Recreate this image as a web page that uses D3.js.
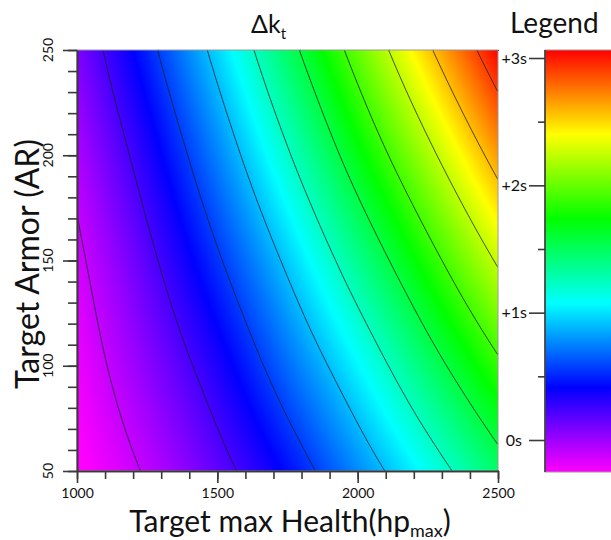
<!DOCTYPE html>
<html>
<head>
<meta charset="utf-8">
<script src="https://cdn.jsdelivr.net/npm/d3@7"></script>
<style>
  body { margin: 0; background: #fff; }
  svg { display: block; }
</style>
</head>
<body>
<div id="chart"></div>
<script>
// grid nodes
const hpNodes = [1000, 1250, 1500, 1750, 2000, 2250, 2500]
const arNodes = [50, 100, 150, 200, 250]

// Δk_t (in s) at each node, one array per armor row, bottom to top
const dkAr50  = [-0.27, -0.08, 0.16, 0.44, 0.77, 1.11, 1.47]
const dkAr100 = [-0.21, 0.05, 0.34, 0.69, 1.06, 1.46, 1.86]
const dkAr150 = [-0.14, 0.18, 0.54, 0.94, 1.37, 1.81, 2.26]
const dkAr200 = [-0.04, 0.33, 0.75, 1.21, 1.69, 2.17, 2.66]
const dkAr250 = [0.08, 0.50, 0.97, 1.48, 2.00, 2.53, 3.06]

// iso lines drawn on top of the colour field
const contourLevels = [-0.1, 0.233, 0.567, 0.9, 1.233, 1.567, 1.9, 2.233, 2.567, 2.9]

// legend bar
const legendTicks = [0, 1, 2, 3]
const legendLabels = ['0s', '+1s', '+2s', '+3s']
const legendMinor = [0.5, 1.5, 2.5]

const xMajor = [1000, 1500, 2000, 2500]
const yMajor = [50, 100, 150, 200, 250]

let chart = {
  'config': {
    'width': 611,
    'height': 540,
    'plot': { 'left': 77, 'right': 498, 'top': 50, 'bottom': 471 },
    'bar': { 'left': 545, 'width': 70, 'top': 50, 'bottom': 472 },
    'font': 'Lato, "Open Sans", "DejaVu Sans", sans-serif',
    'axisColor': '#3a3a3a'
  }
}

const grid = [dkAr50, dkAr100, dkAr150, dkAr200, dkAr250]

// node value, extended linearly past the outer nodes
function node(r, c) {
  let nr = grid.length, nc = grid[0].length
  if (c < 0) return 2 * node(r, 0) - node(r, 1)
  if (c >= nc) return 2 * node(r, nc - 1) - node(r, nc - 2)
  if (r < 0) return 2 * node(0, c) - node(1, c)
  if (r >= nr) return 2 * node(nr - 1, c) - node(nr - 2, c)
  return grid[r][c]
}

function cubic(p0, p1, p2, p3, t) {
  return p1 + 0.5 * t * (p2 - p0 + t * (2 * p0 - 5 * p1 + 4 * p2 - p3 + t * (3 * (p1 - p2) + p3 - p0)))
}

let colIndex = d3.scaleLinear().domain(d3.extent(hpNodes)).range([0, hpNodes.length - 1])
let rowIndex = d3.scaleLinear().domain(d3.extent(arNodes)).range([0, arNodes.length - 1])

// smooth (bicubic) reading of the node table between nodes
function field(hp, ar) {
  let gx = colIndex(hp), gy = rowIndex(ar)
  let c = Math.min(Math.max(Math.floor(gx), 0), hpNodes.length - 2)
  let r = Math.min(Math.max(Math.floor(gy), 0), arNodes.length - 2)
  let tx = gx - c, ty = gy - r
  let rows = [-1, 0, 1, 2].map(k => cubic(node(r + k, c - 1), node(r + k, c), node(r + k, c + 1), node(r + k, c + 2), tx))
  return cubic(rows[0], rows[1], rows[2], rows[3], ty)
}

chart.create = function(container) {
  let cfg = chart.config
  let p = cfg.plot

  let svg = d3.select(container)
    .append('svg')
    .attr('width', cfg.width)
    .attr('height', cfg.height)
    .style('font-family', cfg.font)

  let x = d3.scaleLinear().domain([1000, 2500]).range([p.left, p.right])
  let y = d3.scaleLinear().domain([50, 250]).range([p.bottom, p.top])

  // legend scale: 0s..3s, bar runs a little past both ends
  let ly = d3.scaleLinear().domain([0, 3]).range([440, 58])
  let color = d3.scaleSequential(d3.interpolateHslLong('#ff00ff', '#ff0000'))
    .domain([ly.invert(cfg.bar.bottom), ly.invert(cfg.bar.top)])
    .clamp(true)

  // colour field, one sample per pixel centre
  let W = p.right - p.left, H = p.bottom - p.top
  let values = new Float64Array(W * H)
  let canvas = document.createElement('canvas')
  canvas.width = W
  canvas.height = H
  let ctx = canvas.getContext('2d')
  let img = ctx.createImageData(W, H)
  for (let j = 0; j < H; j++) {
    let ar = y.invert(p.top + j + 0.5)
    for (let i = 0; i < W; i++) {
      let v = field(x.invert(p.left + i + 0.5), ar)
      values[j * W + i] = v
      let c = d3.rgb(color(v))
      let k = 4 * (j * W + i)
      img.data[k] = c.r
      img.data[k + 1] = c.g
      img.data[k + 2] = c.b
      img.data[k + 3] = 255
    }
  }
  ctx.putImageData(img, 0, 0)

  svg.append('image')
    .attr('x', p.left)
    .attr('y', p.top)
    .attr('width', W)
    .attr('height', H)
    .attr('href', canvas.toDataURL())

  // contour lines, leaving out the parts that run along the frame
  let contours = d3.contours().size([W, H]).thresholds(contourLevels)(values)
  let onEdge = (a, b) => (a[0] === 0 && b[0] === 0) || (a[0] === W && b[0] === W) ||
    (a[1] === 0 && b[1] === 0) || (a[1] === H && b[1] === H)

  svg.append('g')
    .attr('class', 'isolines')
    .selectAll('path')
    .data(contours)
    .join('path')
    .attr('d', function(geo) {
      let d = ''
      geo.coordinates.forEach(poly => poly.forEach(ring => {
        let pen = false
        for (let i = 1; i < ring.length; i++) {
          let a = ring[i - 1], b = ring[i]
          if (onEdge(a, b)) { pen = false; continue }
          if (!pen) d += 'M' + (p.left + a[0]) + ',' + (p.top + a[1])
          d += 'L' + (p.left + b[0]) + ',' + (p.top + b[1])
          pen = true
        }
      }))
      return d
    })
    .attr('fill', 'none')
    .attr('stroke', '#1e1e1e')
    .attr('stroke-width', 0.9)

  // plot frame
  svg.append('rect')
    .attr('x', p.left)
    .attr('y', p.top)
    .attr('width', W)
    .attr('height', H)
    .attr('fill', 'none')
    .attr('stroke', '#9a9a9a')
    .attr('stroke-width', 1)

  // x axis: minor every 100, major every 500
  svg.append('g')
    .attr('transform', `translate(0,${p.bottom})`)
    .call(d3.axisBottom(x).tickValues(d3.range(1000, 2501, 100)).tickSize(8).tickSizeOuter(0))
    .call(g => g.selectAll('text').remove())
  svg.append('g')
    .attr('class', 'x-major')
    .attr('transform', `translate(0,${p.bottom})`)
    .call(d3.axisBottom(x).tickValues(xMajor).tickSize(12).tickSizeOuter(0).tickPadding(5).tickFormat(d3.format('d')))

  // y axis: minor every 10, major every 50, labels turned
  svg.append('g')
    .attr('transform', `translate(${p.left},0)`)
    .call(d3.axisLeft(y).tickValues(d3.range(50, 251, 10)).tickSize(9).tickSizeOuter(0))
    .call(g => g.selectAll('text').remove())
  svg.append('g')
    .attr('transform', `translate(${p.left},0)`)
    .call(d3.axisLeft(y).tickValues(yMajor).tickSize(14).tickSizeOuter(0))
    .call(g => g.selectAll('text').remove())

  svg.append('g')
    .selectAll('text')
    .data(yMajor)
    .join('text')
    .attr('transform', d => `translate(53,${y(d)}) rotate(-90)`)
    .attr('text-anchor', 'middle')
    .attr('font-size', 14)
    .attr('fill', '#111')
    .text(d => d)

  svg.selectAll('.domain, .tick line')
    .attr('stroke', cfg.axisColor)
    .attr('stroke-width', 1.6)
  svg.selectAll('.x-major text')
    .attr('font-family', cfg.font)
    .attr('font-size', 14)
    .attr('fill', '#111')

  // titles
  let title = svg.append('text')
    .attr('x', 251)
    .attr('y', 33)
    .attr('font-size', 25)
    .attr('fill', '#111')
  title.append('tspan').text('Δk')
  title.append('tspan').attr('font-size', 15).attr('dy', 6).text('t')

  let xTitle = svg.append('text')
    .attr('x', 290)
    .attr('y', 532)
    .attr('text-anchor', 'middle')
    .attr('font-size', 30)
    .attr('fill', '#111')
  xTitle.append('tspan').text('Target max Health(hp')
  xTitle.append('tspan').attr('font-size', 18).attr('dy', 5).text('max')
  xTitle.append('tspan').attr('dy', -5).text(')')

  svg.append('text')
    .attr('transform', 'translate(39,264) rotate(-90)')
    .attr('text-anchor', 'middle')
    .attr('font-size', 32)
    .attr('fill', '#111')
    .text('Target Armor (AR)')

  // legend bar
  let b = cfg.bar
  let grad = svg.append('defs')
    .append('linearGradient')
    .attr('id', 'legend-grad')
    .attr('x1', 0).attr('y1', 1)
    .attr('x2', 0).attr('y2', 0)
  grad.selectAll('stop')
    .data(d3.range(0, 1.0001, 0.02))
    .join('stop')
    .attr('offset', d => d)
    .attr('stop-color', d => color(ly.invert(b.bottom - d * (b.bottom - b.top))))

  svg.append('rect')
    .attr('x', b.left)
    .attr('y', b.top)
    .attr('width', b.width)
    .attr('height', b.bottom - b.top)
    .attr('fill', 'url(#legend-grad)')
    .attr('stroke', '#9a9a9a')
    .attr('stroke-width', 1)

  svg.append('line')
    .attr('x1', b.left).attr('x2', b.left)
    .attr('y1', b.top).attr('y2', b.bottom)
    .attr('stroke', cfg.axisColor)
    .attr('stroke-width', 1.6)

  let legendAxis = svg.append('g')
    .attr('transform', `translate(${b.left},0)`)
    .call(d3.axisLeft(ly).tickValues(legendTicks).tickSize(16).tickPadding(2)
      .tickFormat((d, i) => legendLabels[i]))
  svg.append('g')
    .attr('transform', `translate(${b.left},0)`)
    .call(d3.axisLeft(ly).tickValues(legendMinor).tickSize(7))
    .call(g => g.select('.domain').remove())
    .call(g => g.selectAll('text').remove())
  legendAxis.select('.domain').remove()

  svg.selectAll('.tick line')
    .attr('stroke', cfg.axisColor)
    .attr('stroke-width', 1.6)
  legendAxis.selectAll('text')
    .attr('font-family', cfg.font)
    .attr('font-size', 16)
    .attr('fill', '#111')
    .attr('dx', (d, i) => i === 0 ? -5 : 0)

  svg.append('text')
    .attr('x', 510)
    .attr('y', 33)
    .attr('font-size', 28)
    .attr('fill', '#111')
    .text('Legend')
}

chart.create('#chart')
</script>
</body>
</html>
